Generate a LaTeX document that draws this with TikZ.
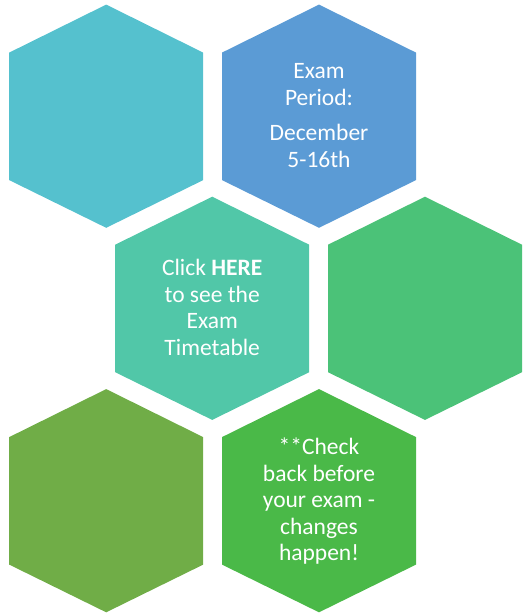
\documentclass[tikz,border=0pt]{standalone}
\usepackage{fontspec}
\setmainfont{Carlito}
\definecolor{hexcyan}{HTML}{55C1CE}
\definecolor{hexblue}{HTML}{5B9BD5}
\definecolor{hexteal}{HTML}{51C7A8}
\definecolor{hexgreen}{HTML}{4BC278}
\definecolor{hexolive}{HTML}{70AD47}
\definecolor{hexlime}{HTML}{4AB948}
\newcommand\hexag[2]{\fill[#2,shift={#1}] (0,-111.6) -- (97,-63.6) -- (97,63.9) -- (0,111.6) -- (-97,63.9) -- (-97,-63.6) -- cycle;}
\begin{document}
\begin{tikzpicture}[x=1pt,y=-1pt,
  hextext/.style={text=white,align=center,anchor=base,inner sep=0pt,
    font=\fontsize{23.5}{26.5}\selectfont}]
\useasboundingbox (0,0) rectangle (523,614);
\hexag{(106.2,116.2)}{hexcyan}
\hexag{(319,116.2)}{hexblue}
\hexag{(212.2,308.3)}{hexteal}
\hexag{(425,308.3)}{hexgreen}
\hexag{(106.2,500.7)}{hexolive}
\hexag{(319,500.7)}{hexlime}
\node[hextext] (t1) at (319,105) {Exam\\Period:};
\node[hextext] (t2) at (319,167.3) {December\\5-16th};
\node[hextext] (t3) at (212.2,355) {Click \textbf{HERE}\\to see the\\Exam\\Timetable};
\node[hextext] (t4) at (319,560.7) {**Check\\back before\\your exam -\\changes\\happen!};
\end{tikzpicture}
\end{document}
